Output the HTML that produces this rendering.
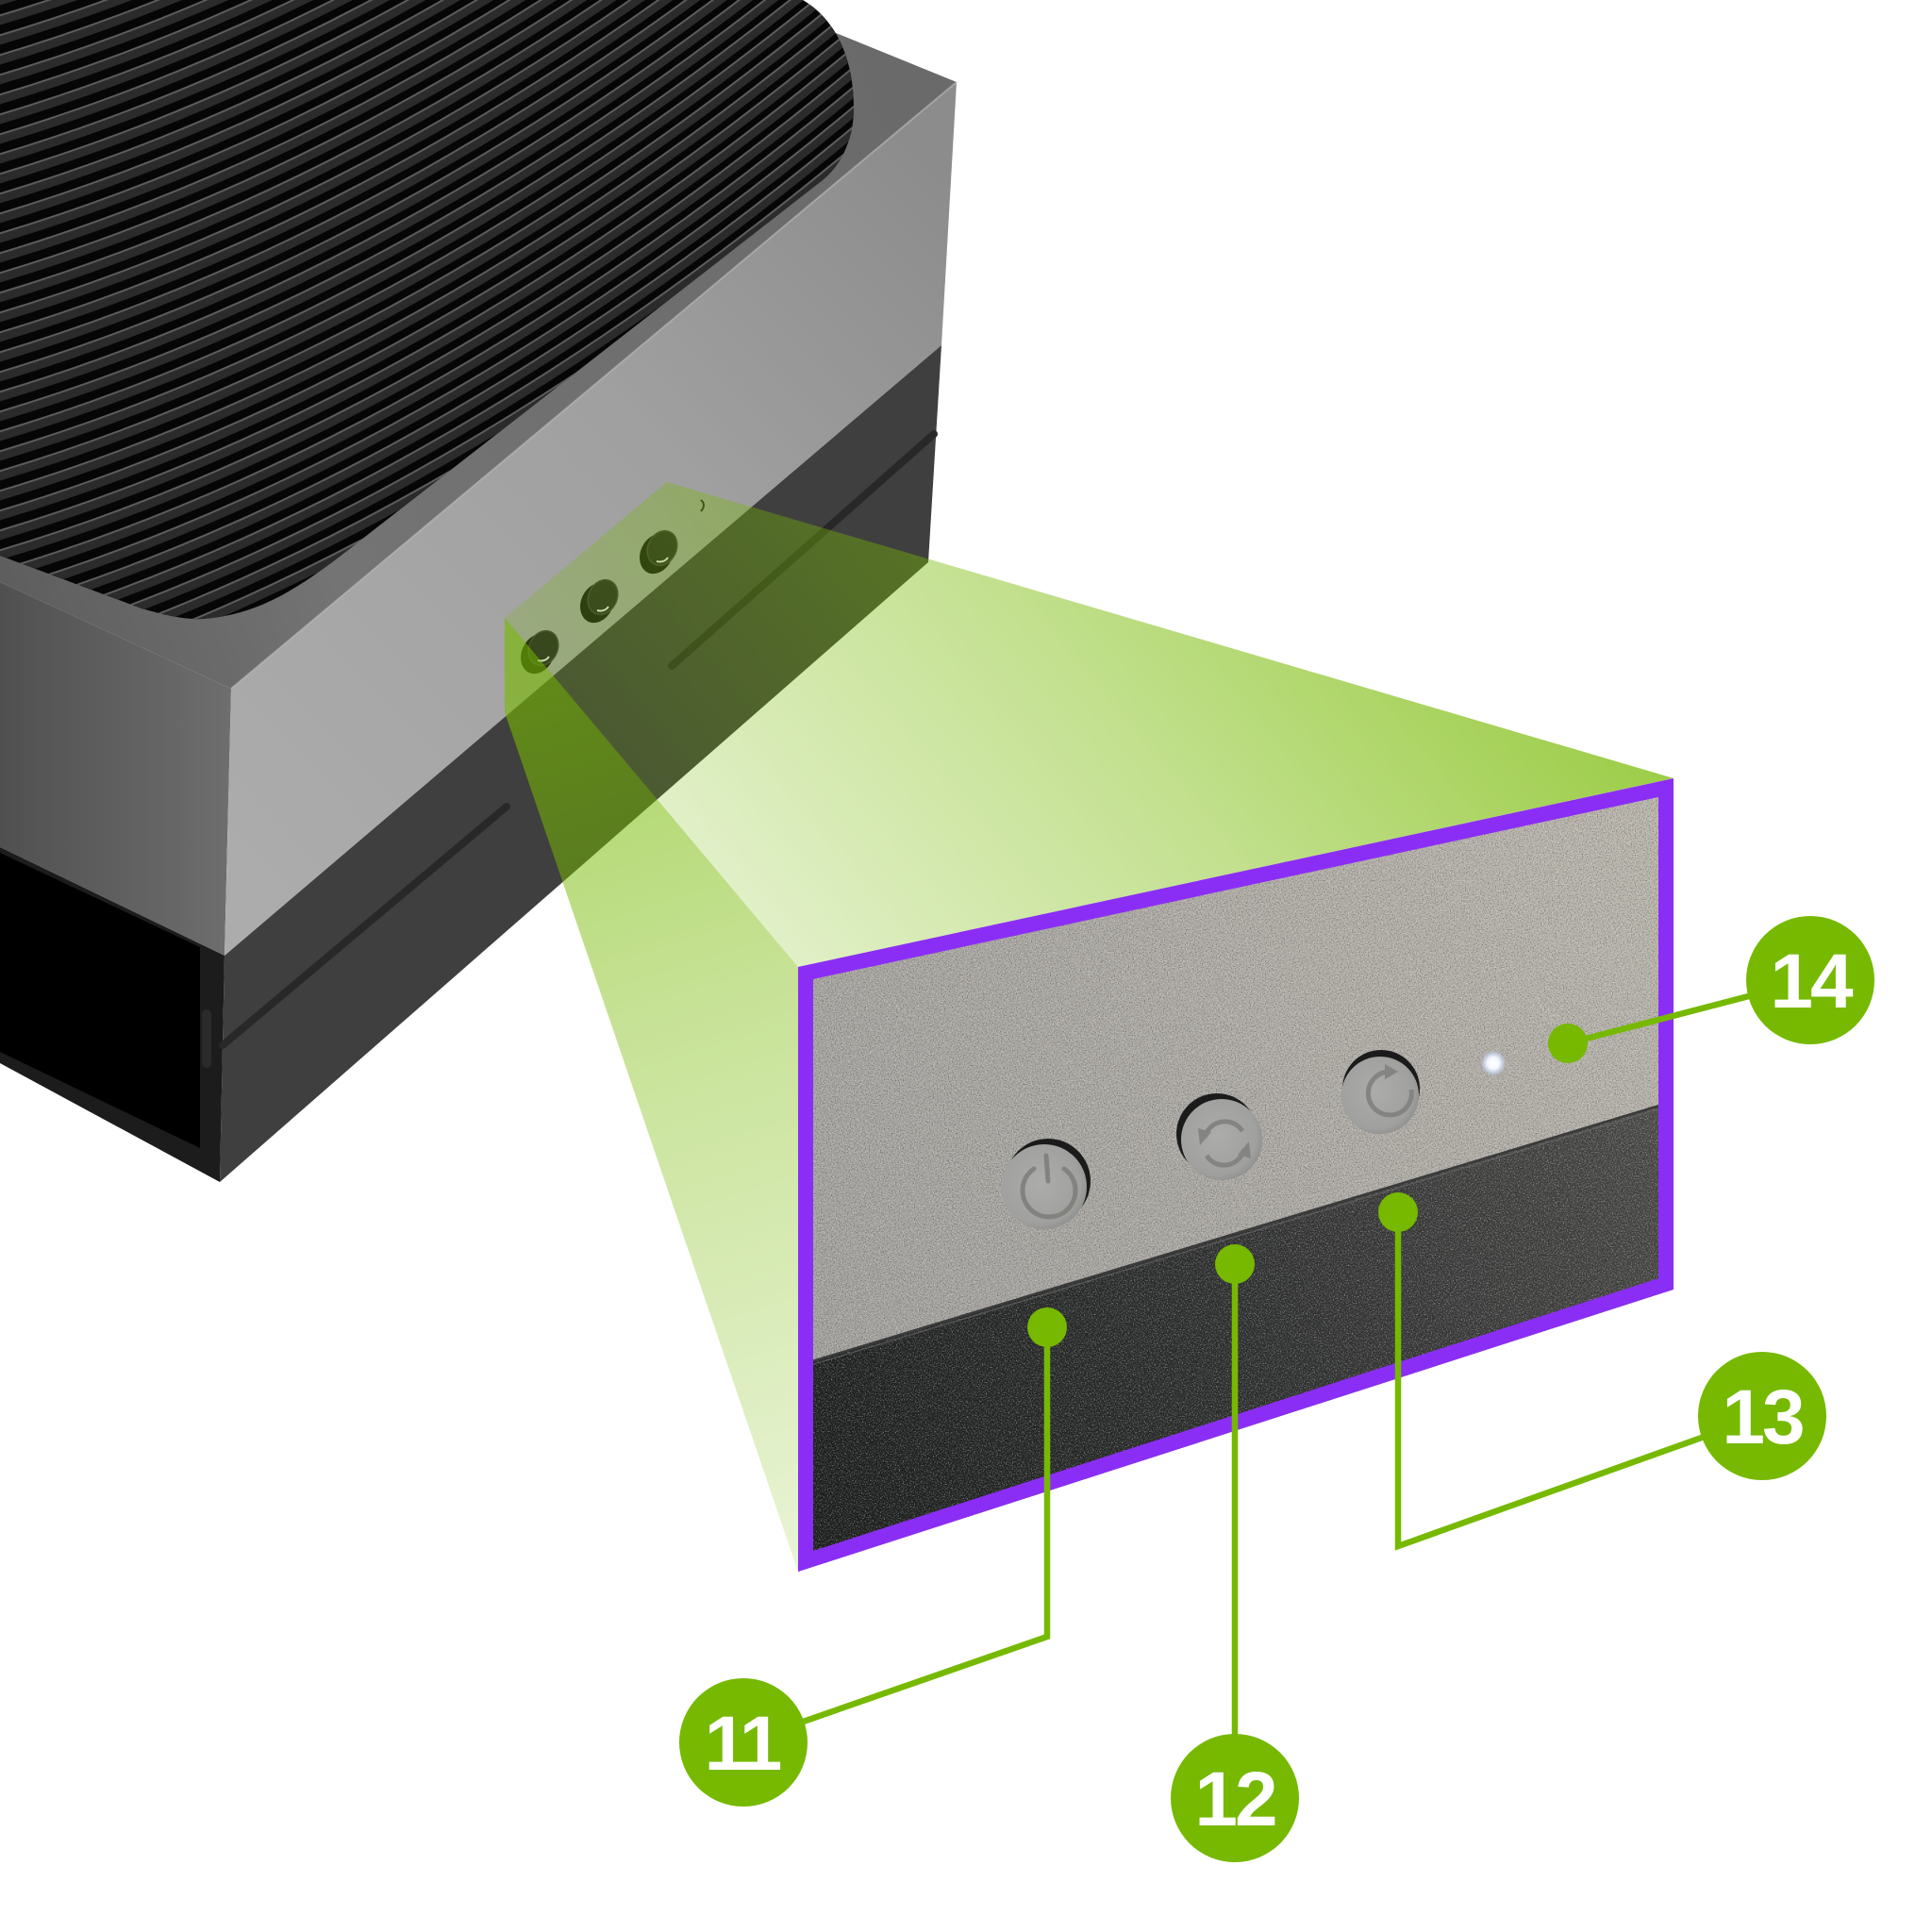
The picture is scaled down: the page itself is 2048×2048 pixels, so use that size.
<!DOCTYPE html>
<html><head><meta charset="utf-8"><style>
html,body{margin:0;padding:0;background:#fff;}
svg{display:block;}
.lbl{font-family:"Liberation Sans",Arial,sans-serif;font-weight:700;font-size:82px;fill:#ffffff;}
</style></head><body>
<svg width="2048" height="2048" viewBox="0 0 2048 2048" xmlns="http://www.w3.org/2000/svg">
<defs>
  <linearGradient id="rimG" gradientUnits="userSpaceOnUse" x1="0" y1="600" x2="1014" y2="200">
    <stop offset="0" stop-color="#5e5e5e"/><stop offset="0.3" stop-color="#747474"/><stop offset="1" stop-color="#6a6a6a"/>
  </linearGradient>
  <linearGradient id="leftBand" gradientUnits="userSpaceOnUse" x1="0" y1="0" x2="245" y2="0">
    <stop offset="0" stop-color="#505050"/><stop offset="1" stop-color="#6e6e6e"/>
  </linearGradient>
  <linearGradient id="frontBand" gradientUnits="userSpaceOnUse" x1="240" y1="920" x2="1000" y2="180">
    <stop offset="0" stop-color="#acacac"/><stop offset="0.6" stop-color="#a0a0a0"/><stop offset="1" stop-color="#8c8c8c"/>
  </linearGradient>
  <linearGradient id="tg" gradientUnits="userSpaceOnUse" x1="535" y1="655" x2="1178" y2="115">
    <stop offset="0" stop-color="#76b900" stop-opacity="0.22"/>
    <stop offset="0.5" stop-color="#76b900" stop-opacity="0.44"/>
    <stop offset="1" stop-color="#76b900" stop-opacity="0.72"/>
  </linearGradient>
  <linearGradient id="lg" gradientUnits="userSpaceOnUse" x1="535" y1="680" x2="846" y2="1666">
    <stop offset="0" stop-color="#76b900" stop-opacity="0.64"/>
    <stop offset="0.4" stop-color="#76b900" stop-opacity="0.42"/>
    <stop offset="1" stop-color="#76b900" stop-opacity="0.16"/>
  </linearGradient>
  <linearGradient id="upG" gradientUnits="userSpaceOnUse" x1="860" y1="1420" x2="1760" y2="860">
    <stop offset="0" stop-color="#a4a29e"/><stop offset="0.5" stop-color="#aeaba5"/><stop offset="1" stop-color="#bbb7ae"/>
  </linearGradient>
  <linearGradient id="loG" gradientUnits="userSpaceOnUse" x1="860" y1="1650" x2="1760" y2="1180">
    <stop offset="0" stop-color="#1b1d1d"/><stop offset="0.5" stop-color="#2e2f2f"/><stop offset="1" stop-color="#4b4b49"/>
  </linearGradient>
  <radialGradient id="btnG" cx="0.45" cy="0.45" r="0.6">
    <stop offset="0" stop-color="#acacaa"/><stop offset="0.8" stop-color="#a0a09e"/><stop offset="1" stop-color="#8c8c8a"/>
  </radialGradient>
  <radialGradient id="ledG" cx="0.5" cy="0.5" r="0.5">
    <stop offset="0" stop-color="#ffffff"/><stop offset="0.45" stop-color="#f4f8ff"/><stop offset="0.75" stop-color="#c8d6ee" stop-opacity="0.7"/><stop offset="1" stop-color="#b0b8c8" stop-opacity="0"/>
  </radialGradient>
  <clipPath id="finsClip">
    <path d="M0,0 L851,0 C885,20 905,60 905,115 C905,150 890,178 868,194 L360,590 C310,628 270,652 215,656 C195,657 175,652 150,645 L0,589 Z"/>
  </clipPath>
  <clipPath id="photoClip">
    <polygon points="846,1025 1774,825 1774,1367 846,1666"/>
  </clipPath>
  <filter id="nzW" x="0" y="0" width="1" height="1">
    <feTurbulence type="fractalNoise" baseFrequency="0.75" numOctaves="2" seed="7" result="n"/>
    <feColorMatrix in="n" type="matrix" values="0 0 0 0 1  0 0 0 0 1  0 0 0 0 1  3 0 0 0 -1.45"/>
  </filter>
  <filter id="nzB" x="0" y="0" width="1" height="1">
    <feTurbulence type="fractalNoise" baseFrequency="0.75" numOctaves="2" seed="19" result="n"/>
    <feColorMatrix in="n" type="matrix" values="0 0 0 0 0  0 0 0 0 0  0 0 0 0 0  -3 0 0 0 1.55"/>
  </filter>
  <path id="finBody" d="M-30,9 Q475,-133 980,-576" fill="none" stroke="#2b2b2b" stroke-width="10" stroke-linecap="round"/>
  <path id="finHi" d="M-30,4 Q475,-138 980,-581" fill="none" stroke="#5c5c5c" stroke-width="2"/>
</defs>

<rect x="0" y="0" width="2048" height="2048" fill="#ffffff"/>

<!-- ===== DEVICE ===== -->
<polygon points="0,0 800,0 1014,87 245,730 0,617" fill="url(#rimG)"/>
<g clip-path="url(#finsClip)">
  <rect x="0" y="0" width="910" height="660" fill="#060606"/>
  <g>
    <g transform="translate(0,0)"><use href="#finBody"/><use href="#finHi"/></g>
    <g transform="translate(0,21)"><use href="#finBody"/><use href="#finHi"/></g>
    <g transform="translate(0,42)"><use href="#finBody"/><use href="#finHi"/></g>
    <g transform="translate(0,63)"><use href="#finBody"/><use href="#finHi"/></g>
    <g transform="translate(0,84)"><use href="#finBody"/><use href="#finHi"/></g>
    <g transform="translate(0,105)"><use href="#finBody"/><use href="#finHi"/></g>
    <g transform="translate(0,126)"><use href="#finBody"/><use href="#finHi"/></g>
    <g transform="translate(0,147)"><use href="#finBody"/><use href="#finHi"/></g>
    <g transform="translate(0,168)"><use href="#finBody"/><use href="#finHi"/></g>
    <g transform="translate(0,189)"><use href="#finBody"/><use href="#finHi"/></g>
    <g transform="translate(0,210)"><use href="#finBody"/><use href="#finHi"/></g>
    <g transform="translate(0,231)"><use href="#finBody"/><use href="#finHi"/></g>
    <g transform="translate(0,252)"><use href="#finBody"/><use href="#finHi"/></g>
    <g transform="translate(0,273)"><use href="#finBody"/><use href="#finHi"/></g>
    <g transform="translate(0,294)"><use href="#finBody"/><use href="#finHi"/></g>
    <g transform="translate(0,315)"><use href="#finBody"/><use href="#finHi"/></g>
    <g transform="translate(0,336)"><use href="#finBody"/><use href="#finHi"/></g>
    <g transform="translate(0,357)"><use href="#finBody"/><use href="#finHi"/></g>
    <g transform="translate(0,378)"><use href="#finBody"/><use href="#finHi"/></g>
    <g transform="translate(0,399)"><use href="#finBody"/><use href="#finHi"/></g>
    <g transform="translate(0,420)"><use href="#finBody"/><use href="#finHi"/></g>
    <g transform="translate(0,441)"><use href="#finBody"/><use href="#finHi"/></g>
    <g transform="translate(0,462)"><use href="#finBody"/><use href="#finHi"/></g>
    <g transform="translate(0,483)"><use href="#finBody"/><use href="#finHi"/></g>
    <g transform="translate(0,504)"><use href="#finBody"/><use href="#finHi"/></g>
    <g transform="translate(0,525)"><use href="#finBody"/><use href="#finHi"/></g>
    <g transform="translate(0,546)"><use href="#finBody"/><use href="#finHi"/></g>
    <g transform="translate(0,567)"><use href="#finBody"/><use href="#finHi"/></g>
    <g transform="translate(0,588)"><use href="#finBody"/><use href="#finHi"/></g>
    <g transform="translate(0,609)"><use href="#finBody"/><use href="#finHi"/></g>
    <g transform="translate(0,630)"><use href="#finBody"/><use href="#finHi"/></g>
    <g transform="translate(0,651)"><use href="#finBody"/><use href="#finHi"/></g>
    <g transform="translate(0,672)"><use href="#finBody"/><use href="#finHi"/></g>
    <g transform="translate(0,693)"><use href="#finBody"/><use href="#finHi"/></g>
    <g transform="translate(0,714)"><use href="#finBody"/><use href="#finHi"/></g>
    <g transform="translate(0,735)"><use href="#finBody"/><use href="#finHi"/></g>
  </g>
</g>
<polygon points="0,617 245,730 238,1013 0,898" fill="url(#leftBand)"/>
<polygon points="0,898 238,1013 233,1253 0,1127" fill="#1c1c1c"/>
<polygon points="0,904 212,1004 212,1217 0,1115" fill="#000000"/>
<rect x="214" y="1070" width="10" height="62" rx="5" fill="#2a2a2a"/>
<polygon points="245,730 1014,87 998,366 238,1013" fill="url(#frontBand)"/>
<line x1="245" y1="730" x2="1014" y2="87" stroke="#b8b8b8" stroke-width="2" opacity="0.6"/>
<polygon points="238,1013 998,366 984,596 233,1253" fill="#3f3f3f"/>
<line x1="236" y1="1108" x2="537" y2="855" stroke="#282828" stroke-width="8" stroke-linecap="round"/>
<line x1="712" y1="706" x2="990" y2="460" stroke="#282828" stroke-width="8" stroke-linecap="round"/>
<g>
  <ellipse cx="570" cy="693" rx="17" ry="22" transform="rotate(25 570 693)" fill="#141414"/>
  <ellipse cx="576" cy="687" rx="15" ry="19" transform="rotate(25 576 687)" fill="#262626" stroke="#3c3c3c" stroke-width="1.5"/>
  <path d="M570,700 q8,2 12,-4" fill="none" stroke="#e8e8e8" stroke-width="2"/>
  <ellipse cx="633" cy="639" rx="17" ry="22" transform="rotate(25 633 639)" fill="#141414"/>
  <ellipse cx="639" cy="633" rx="15" ry="19" transform="rotate(25 639 633)" fill="#262626" stroke="#3c3c3c" stroke-width="1.5"/>
  <path d="M633,647 q8,2 12,-4" fill="none" stroke="#e8e8e8" stroke-width="2"/>
  <ellipse cx="696" cy="587" rx="17" ry="22" transform="rotate(25 696 587)" fill="#141414"/>
  <ellipse cx="702" cy="581" rx="15" ry="19" transform="rotate(25 702 581)" fill="#262626" stroke="#3c3c3c" stroke-width="1.5"/>
  <path d="M696,595 q8,2 12,-4" fill="none" stroke="#e8e8e8" stroke-width="2"/>
  <path d="M743,530 q6,5 0,12" fill="none" stroke="#222" stroke-width="2"/>
</g>

<!-- ===== GREEN CONE ===== -->
<polygon points="535,655 846,1025 846,1666 535,755" fill="url(#lg)"/>
<polygon points="535,655 707,511 1774,825 846,1025" fill="url(#tg)"/>

<!-- ===== PHOTO ===== -->
<g clip-path="url(#photoClip)">
  <polygon points="846,1025 1774,825 1774,1168 846,1447" fill="url(#upG)"/>
  <polygon points="846,1447 1774,1168 1774,1367 846,1666" fill="url(#loG)"/>
  <rect x="846" y="825" width="930" height="845" filter="url(#nzW)" opacity="0.45"/>
  <rect x="846" y="825" width="930" height="845" filter="url(#nzB)" opacity="0.35"/>
  <line x1="846" y1="1447.5" x2="1774" y2="1167.5" stroke="#3a3a3a" stroke-width="2.5"/>
  <line x1="846" y1="1451" x2="1774" y2="1171" stroke="#6a6a68" stroke-width="1.5" opacity="0.6"/>

  <!-- power button -->
  <circle cx="1111" cy="1252" r="45" fill="#1b1b1b"/>
  <circle cx="1107" cy="1258" r="45" fill="url(#btnG)"/>
  <path d="M1096,1239 A28,28 0 1 0 1128,1239" fill="none" stroke="#82827f" stroke-width="5" stroke-linecap="round"/>
  <line x1="1109" y1="1225" x2="1111" y2="1252" stroke="#82827f" stroke-width="5" stroke-linecap="round"/>

  <!-- sync button -->
  <circle cx="1290" cy="1202" r="43" fill="#1b1b1b"/>
  <circle cx="1295" cy="1208" r="43" fill="url(#btnG)"/>
  <path d="M1277,1206 A22,22 0 0 1 1317,1199" fill="none" stroke="#848482" stroke-width="5"/>
  <polygon points="1270,1196 1284,1200 1272,1214" fill="#848482"/>
  <path d="M1319,1218 A22,22 0 0 1 1279,1225" fill="none" stroke="#848482" stroke-width="5"/>
  <polygon points="1326,1228 1312,1224 1324,1210" fill="#848482"/>

  <!-- restart button -->
  <circle cx="1464" cy="1154" r="41" fill="#1b1b1b"/>
  <circle cx="1463" cy="1161" r="41" fill="url(#btnG)"/>
  <path d="M1473,1136 A23,23 0 1 0 1496,1155" fill="none" stroke="#848482" stroke-width="5"/>
  <polygon points="1468,1128 1482,1136 1468,1144" fill="#848482"/>

  <circle cx="1583" cy="1127" r="14" fill="url(#ledG)"/>
</g>
<polygon points="854,1031.5 1766,835 1766,1361 854,1655" fill="none" stroke="#8b2ef5" stroke-width="16" stroke-linejoin="miter"/>

<!-- ===== CALLOUTS ===== -->
<g stroke="#76b900" stroke-width="6.5" fill="none" stroke-linejoin="miter">
  <polyline points="1662,1106 1919,1039"/>
  <polyline points="1482,1285 1482,1639 1868,1501"/>
  <polyline points="1309,1340 1309,1906"/>
  <polyline points="1110,1407 1110,1735 788,1847"/>
</g>
<g fill="#76b900">
  <circle cx="1662" cy="1106" r="21"/>
  <circle cx="1482" cy="1285" r="21"/>
  <circle cx="1309" cy="1340" r="21"/>
  <circle cx="1110" cy="1407" r="21"/>
  <circle cx="1919" cy="1039" r="68"/>
  <circle cx="1868" cy="1501" r="68"/>
  <circle cx="1309" cy="1906" r="68"/>
  <circle cx="788" cy="1847" r="68"/>
</g>
<g text-anchor="middle">
  <text class="lbl" x="1919" y="1068" letter-spacing="-3">14</text>
  <text class="lbl" x="1868" y="1530" letter-spacing="-3">13</text>
  <text class="lbl" x="1309" y="1935" letter-spacing="-3">12</text>
  <text class="lbl" x="786" y="1876" letter-spacing="-4">11</text>
</g>
</svg>
</body></html>
